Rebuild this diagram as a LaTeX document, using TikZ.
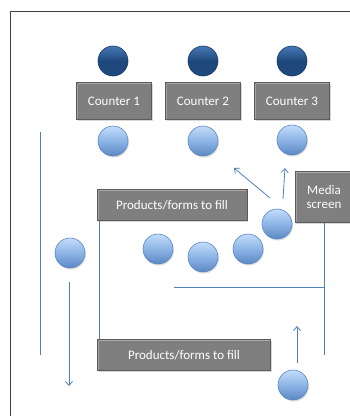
\documentclass[tikz,border=0pt]{standalone}
\usepackage{fontspec}
\setmainfont{Carlito}
\usetikzlibrary{shadows,arrows.meta}
\definecolor{linkblue}{RGB}{79,129,189}
\definecolor{navyball}{RGB}{31,73,125}
\definecolor{navytop}{RGB}{70,120,180}
\definecolor{skyball}{RGB}{141,180,230}
\definecolor{skytop}{RGB}{195,220,250}
\definecolor{skyrim}{RGB}{90,135,195}
\definecolor{boxgray}{RGB}{127,127,127}
\definecolor{boxedge}{RGB}{90,90,90}
\definecolor{boxlight}{RGB}{170,170,170}
\tikzset{
  staff/.style={circle, minimum size=30pt, inner sep=0pt,
    top color=navytop, bottom color=navyball, middle color=navyball,
    draw=navyball!80!black, line width=0.6pt},
  client/.style={circle, minimum size=30pt, inner sep=0pt,
    top color=skytop, bottom color=skyrim, middle color=skyball,
    draw=skyrim, line width=0.6pt,
    drop shadow={shadow xshift=1pt, shadow yshift=-1.5pt, opacity=0.25}},
  panel/.style={rectangle, fill=boxgray, draw=boxedge, line width=0.6pt,
    text=white, font=\fontsize{13}{14}\selectfont, align=center,
    inner sep=0pt,
    path picture={
      \draw[boxlight, line width=1.2pt]
        ([shift={(1pt,-1pt)}]path picture bounding box.north west) --
        ([shift={(-1pt,-1pt)}]path picture bounding box.north east);
      \draw[boxlight!80!boxgray, line width=0.8pt]
        ([shift={(1pt,-1pt)}]path picture bounding box.north west) --
        ([shift={(1pt,1pt)}]path picture bounding box.south west);
    },
    drop shadow={shadow xshift=1pt, shadow yshift=-1.5pt, opacity=0.3}},
  flow/.style={draw=linkblue, line width=0.8pt},
  flowarrow/.style={flow, -{Straight Barb[length=4pt,width=7pt]}},
}
\begin{document}
\begin{tikzpicture}[x=1pt,y=-1pt]
\useasboundingbox (0,0) rectangle (350,416);
\fill[white] (0,0) rectangle (350,416);
% outer frame
\draw[line width=1pt, black!75] (10,416) -- (10,11) -- (352,11);

% counter staff
\node[staff] (s1) at (113,61) {};
\node[staff] (s2) at (203,61) {};
\node[staff] (s3) at (292,61) {};

% counters
\node[panel, minimum width=75pt, minimum height=37pt] (c1) at (114,101) {Counter 1};
\node[panel, minimum width=75pt, minimum height=37pt] (c2) at (203,101) {Counter 2};
\node[panel, minimum width=75pt, minimum height=37pt] (c3) at (292,101) {Counter 3};

% clients at counters
\node[client] (q1) at (113,141) {};
\node[client] (q2) at (203,141) {};
\node[client] (q3) at (292,140) {};

% product/forms tables and media screen
\node[panel, minimum width=150pt, minimum height=31pt] (p1) at (172,205) {Products/forms to fill};
\node[panel, minimum width=173pt, minimum height=31pt] (p2) at (184,355) {Products/forms to fill};
\node[panel, minimum width=58pt, minimum height=51pt] (ms) at (324,197) {Media\\screen};

% waiting clients
\node[client] (w0) at (70,253) {};
\node[client] (w1) at (158,249) {};
\node[client] (w2) at (203,257) {};
\node[client] (w3) at (248,249) {};
\node[client] (w4) at (277,224) {};
\node[client] (w5) at (293,385) {};

% queue guides
\coordinate (g1) at (40,132);
\coordinate (g2) at (40,355);
\draw[flow] (g1) -- (g2);
\coordinate (d1) at (69,282);
\coordinate (d2) at (69,386);
\draw[flowarrow] (d1) -- (d2);
\draw[flow] ([xshift=3pt]p1.south west) -- ([xshift=3pt]p1.south west |- p2.north);
\coordinate (m2) at (324,355);
\draw[flow] (ms.south) -- (m2);
\coordinate (h1) at (174,287);
\draw[flow] (h1) -- (h1 -| ms.south);

% movement towards counters
\coordinate (b1) at (270,198);
\coordinate (b2) at (283,199);
\coordinate (a1) at (234,168);
\coordinate (a2) at (285,168);
\draw[flowarrow] (b1) -- (a1);
\draw[flowarrow] (b2) -- (a2);
\coordinate (u1) at (297,363);
\coordinate (u2) at (297,326);
\draw[flowarrow] (u1) -- (u2);
\end{tikzpicture}
\end{document}
